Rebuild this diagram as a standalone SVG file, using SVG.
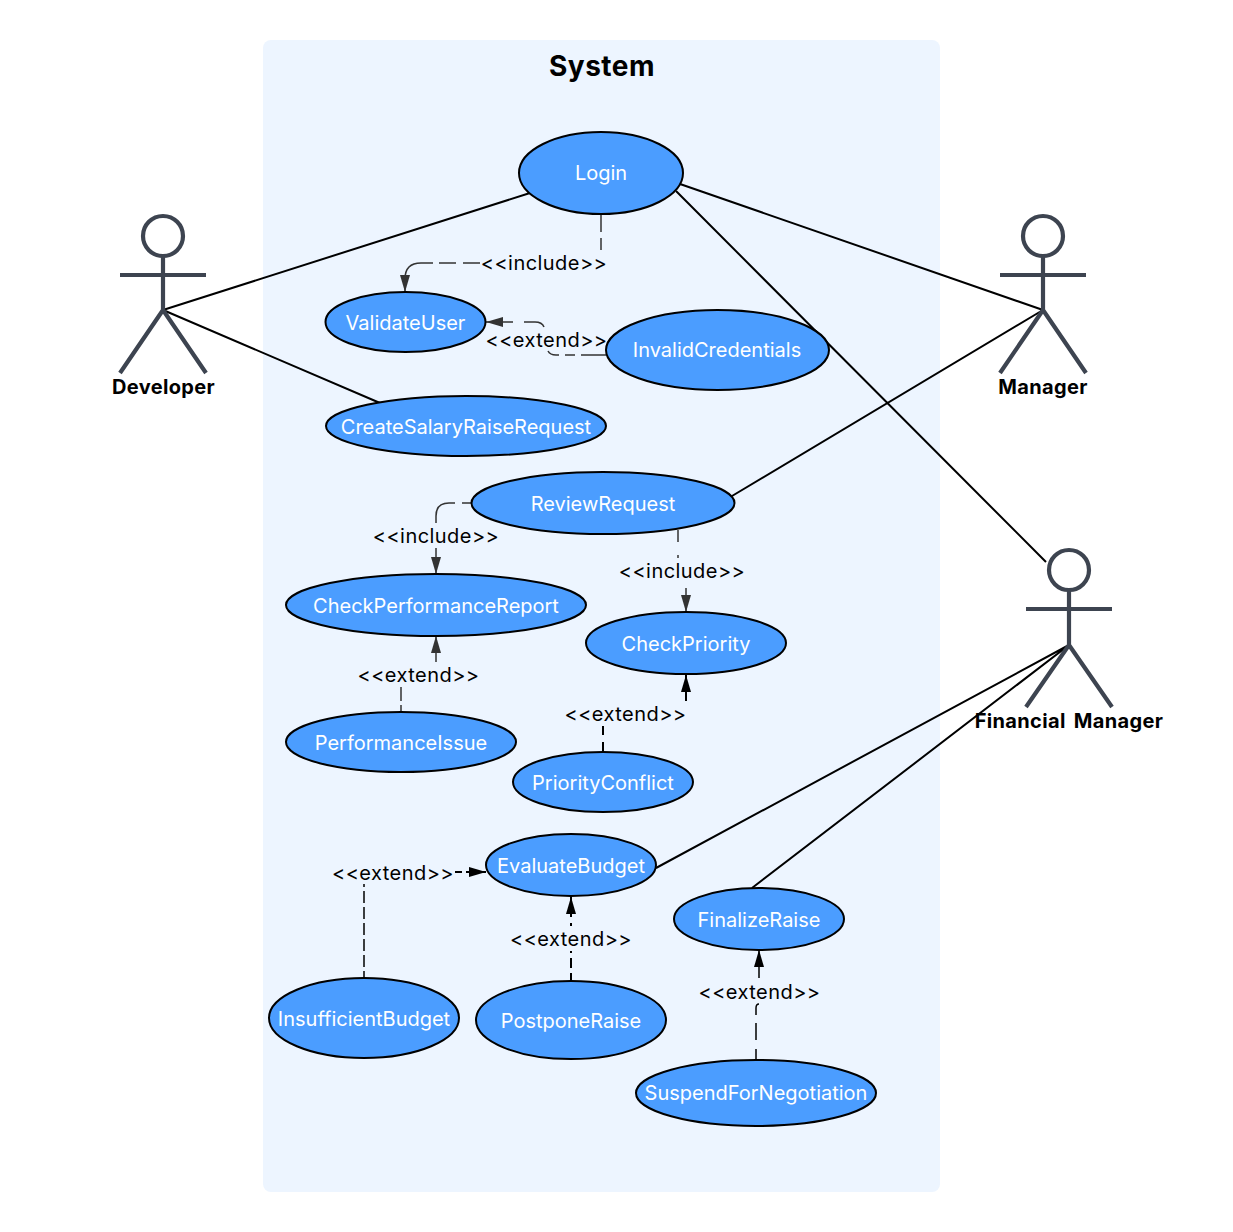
<svg xmlns="http://www.w3.org/2000/svg" width="1233" height="1232" viewBox="0 0 1233 1232">
<style>
text{font-family:Inter,"Liberation Sans",sans-serif}
.uc ellipse{fill:#4b9dff;stroke:#000;stroke-width:2}
.uc text{fill:#fff;font-size:20px;text-anchor:middle;dominant-baseline:central}
.actor circle,.actor path{fill:none;stroke:#3d4450;stroke-width:4.2}
.actor text{fill:#000;font-size:20px;font-weight:700;text-anchor:middle;letter-spacing:.35px;word-spacing:3px}
.assoc{stroke:#000;stroke-width:2;fill:none}
.dep{stroke:#333;stroke-width:1.5;fill:none}
.depk{stroke:#000;stroke-width:2;fill:none}
.lab{fill:#000;font-size:20px;text-anchor:middle;dominant-baseline:central;letter-spacing:.45px}
</style>
<defs>
<marker id="a" markerUnits="userSpaceOnUse" markerWidth="18" markerHeight="14" refX="17" refY="6" orient="auto"><path d="M0 1L17 6L0 11z" fill="#333"/></marker>
<marker id="k" markerUnits="userSpaceOnUse" markerWidth="18" markerHeight="14" refX="17" refY="6" orient="auto"><path d="M0 1L17 6L0 11z" fill="#000"/></marker>
</defs>
<rect width="1233" height="1232" fill="#fff"/>
<rect x="263" y="40" width="677" height="1152" rx="8" fill="#edf5ff"/>
<text x="602" y="76" font-size="28" font-weight="700" text-anchor="middle" fill="#000" letter-spacing=".5">System</text>
<g id="connectors">
<path class="assoc" d="M163 310L530 193M163 310L380 403M680 184L1043 310M676 191L1046 562M1043 310L732 496M1069 645L656 868M1069 645L752 888"/>
<path class="dep" marker-end="url(#a)" d="M601 215V232M601 238V250M480 263H463M456 263H439M433 263H421Q405 263 405 279V292"/>
<path class="dep" marker-end="url(#a)" d="M606 355H581M575 355H565M559 355H556Q550 355 548 351M544 327Q542 322 535 322H524M513 322H486"/>
<path class="dep" marker-end="url(#a)" d="M472 503H462M455 503H449Q436 503 436 516V523M436 548V574"/>
<path class="dep" marker-end="url(#a)" d="M678 530V542M678 555V558M686 588V612"/>
<path class="dep" marker-end="url(#a)" d="M401 712V705M401 701V687M436 662V636"/>
<path class="depk" marker-end="url(#k)" d="M603 752V742M603 735V726M686 701V675"/>
<path class="dep" stroke-dasharray="12 4" stroke-dashoffset="6" style="stroke:#000" d="M364 977V884"/>
<path class="depk" marker-end="url(#k)" d="M455 872H462M466 872H486"/>
<path class="depk" marker-end="url(#k)" d="M571 980V973M571 968V958M571 953V951M571 926V923M571 917V897"/>
<path class="dep" style="stroke:#000" marker-end="url(#k)" d="M756 1059V1049M756 1040V1023M756 1015V1008Q756 1004 759 1004M759 978V950"/>
</g>
<g id="labels">
<text class="lab" x="544" y="263">&lt;&lt;include&gt;&gt;</text>
<text class="lab" x="546.500" y="340">&lt;&lt;extend&gt;&gt;</text>
<text class="lab" x="436" y="536">&lt;&lt;include&gt;&gt;</text>
<text class="lab" x="682" y="571">&lt;&lt;include&gt;&gt;</text>
<text class="lab" x="418.500" y="675">&lt;&lt;extend&gt;&gt;</text>
<text class="lab" x="625.500" y="714">&lt;&lt;extend&gt;&gt;</text>
<text class="lab" x="393" y="873">&lt;&lt;extend&gt;&gt;</text>
<text class="lab" x="571" y="939">&lt;&lt;extend&gt;&gt;</text>
<text class="lab" x="759.500" y="992">&lt;&lt;extend&gt;&gt;</text>
</g>
<g id="uc-login" class="uc"><ellipse cx="601" cy="173" rx="82" ry="41"/><text x="601" y="173">Login</text></g>
<g id="uc-validateuser" class="uc"><ellipse cx="405.500" cy="322" rx="80" ry="30"/><text x="405.500" y="323">ValidateUser</text></g>
<g id="uc-invalidcredentials" class="uc"><ellipse cx="717.500" cy="350" rx="111.500" ry="40"/><text x="717" y="350">InvalidCredentials</text></g>
<g id="uc-createsalaryraiserequest" class="uc"><ellipse cx="466" cy="426" rx="140" ry="30"/><text x="466" y="427">CreateSalaryRaiseRequest</text></g>
<g id="uc-reviewrequest" class="uc"><ellipse cx="603" cy="503" rx="131.500" ry="31"/><text x="603" y="504">ReviewRequest</text></g>
<g id="uc-checkperformancereport" class="uc"><ellipse cx="436" cy="605" rx="150" ry="31"/><text x="436" y="606">CheckPerformanceReport</text></g>
<g id="uc-checkpriority" class="uc"><ellipse cx="686" cy="643" rx="100" ry="31"/><text x="686" y="644">CheckPriority</text></g>
<g id="uc-performanceissue" class="uc"><ellipse cx="401" cy="742" rx="115" ry="30"/><text x="401" y="743">PerformanceIssue</text></g>
<g id="uc-priorityconflict" class="uc"><ellipse cx="603" cy="782" rx="90" ry="30"/><text x="603" y="783">PriorityConflict</text></g>
<g id="uc-evaluatebudget" class="uc"><ellipse cx="571" cy="865" rx="85" ry="31"/><text x="571" y="866">EvaluateBudget</text></g>
<g id="uc-finalizeraise" class="uc"><ellipse cx="759" cy="919" rx="85" ry="31"/><text x="759" y="920">FinalizeRaise</text></g>
<g id="uc-insufficientbudget" class="uc"><ellipse cx="364" cy="1018" rx="95" ry="40"/><text x="364" y="1018.500">InsufficientBudget</text></g>
<g id="uc-postponeraise" class="uc"><ellipse cx="571" cy="1020" rx="95" ry="39"/><text x="571" y="1021">PostponeRaise</text></g>
<g id="uc-suspendfornegotiation" class="uc"><ellipse cx="756" cy="1093" rx="120" ry="33"/><text x="756" y="1093">SuspendForNegotiation</text></g>
<g id="actor-developer" class="actor"><circle cx="163" cy="236" r="20"/><path d="M163 256V310M120 275H206M163 310L120 373M163 310L206 373"/><text x="163.500" y="394">Developer</text></g>
<g id="actor-manager" class="actor"><circle cx="1043" cy="236" r="20"/><path d="M1043 256V310M1000 275H1086M1043 310L1000 373M1043 310L1086 373"/><text x="1043" y="394">Manager</text></g>
<g id="actor-financial-manager" class="actor"><circle cx="1069" cy="570" r="20"/><path d="M1069 590V645M1026 609H1112M1069 645L1026 707M1069 645L1112 707"/><text x="1069" y="728">Financial Manager</text></g>
</svg>
